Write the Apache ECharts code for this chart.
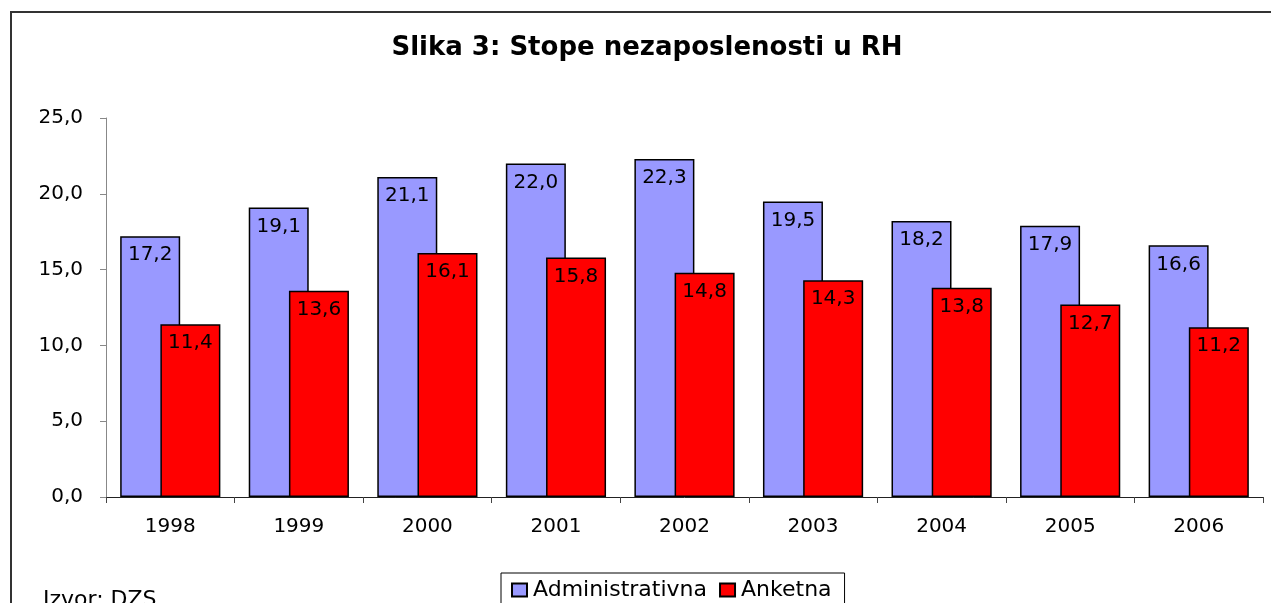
<!DOCTYPE html>
<html>
<head>
<meta charset="utf-8">
<script src="https://cdn.jsdelivr.net/npm/echarts@6/dist/echarts.min.js"></script>
<style>
  html, body { margin: 0; padding: 0; background: #fff; }
  #chart { width: 1271px; height: 603px; }
</style>
</head>
<body>
<div id="chart"></div>
<script>
  // podaci
  const years = ['1998', '1999', '2000', '2001', '2002', '2003', '2004', '2005', '2006']
  const administrativna = [17.2, 19.1, 21.1, 22.0, 22.3, 19.5, 18.2, 17.9, 16.6]
  const anketna = [11.4, 13.6, 16.1, 15.8, 14.8, 14.3, 13.8, 12.7, 11.2]
  const yTicks = [0, 5, 10, 15, 20, 25]

  const font = '"DejaVu Sans", "Liberation Sans", Arial, sans-serif'
  const fmt = v => Number(v).toFixed(1).replace('.', ',')

  let mychart = echarts.init(document.getElementById('chart'))
  mychart.setOption({
    animation: false,
    textStyle: { fontFamily: font },
    title: {
      text: 'Slika 3: Stope nezaposlenosti u RH',
      left: 642,
      textAlign: 'center',
      top: 30,
      textStyle: { fontSize: 26, fontWeight: 'bold', color: '#000', fontFamily: font }
    },
    graphic: [
      {
        type: 'rect',
        shape: { x: 11, y: 12, width: 1300, height: 700 },
        style: { fill: 'none', stroke: '#333', lineWidth: 2 },
        silent: true
      },
      {
        type: 'text',
        left: 43,
        top: 589,
        style: { text: 'Izvor: DZS', fontSize: 22, fill: '#000', fontFamily: font }
      }
    ],
    legend: {
      data: ['Administrativna', 'Anketna'],
      left: 501,
      top: 573,
      icon: 'rect',
      itemWidth: 15,
      itemHeight: 13,
      itemGap: 12,
      padding: [6, 13, 6, 10],
      borderColor: '#000',
      borderWidth: 1,
      textStyle: { fontSize: 22, color: '#000', fontFamily: font, padding: [0, 0, 0, 1] }
    },
    grid: { left: 106, right: 8, top: 118, bottom: 106 },
    xAxis: {
      type: 'category',
      data: years,
      axisLine: { lineStyle: { color: '#222', width: 1 } },
      axisTick: { show: true, length: 6, lineStyle: { color: '#444' } },
      axisLabel: { fontSize: 20, color: '#000', margin: 20, fontFamily: font }
    },
    yAxis: {
      type: 'value',
      min: yTicks[0],
      max: yTicks[yTicks.length - 1],
      interval: 5,
      axisLine: { show: true, lineStyle: { color: '#888', width: 1 } },
      axisTick: { show: true, length: 6, lineStyle: { color: '#888' } },
      splitLine: { show: false },
      axisLabel: { fontSize: 20, color: '#000', margin: 23, fontFamily: font, formatter: fmt }
    },
    series: [
      {
        name: 'Administrativna',
        type: 'bar',
        data: administrativna,
        barWidth: 60,
        barGap: '-33%',
        itemStyle: { color: '#9999FF', borderColor: '#000', borderWidth: 1.5 },
        label: {
          show: true,
          position: 'insideTop',
          distance: 9,
          fontSize: 20,
          color: '#000',
          fontFamily: font,
          formatter: p => fmt(p.value)
        }
      },
      {
        name: 'Anketna',
        type: 'bar',
        data: anketna,
        barWidth: 60,
        itemStyle: { color: '#FF0000', borderColor: '#000', borderWidth: 1.5 },
        label: {
          show: true,
          position: 'insideTop',
          distance: 9,
          fontSize: 20,
          color: '#000',
          fontFamily: font,
          formatter: p => fmt(p.value)
        }
      }
    ]
  })
</script>
</body>
</html>
